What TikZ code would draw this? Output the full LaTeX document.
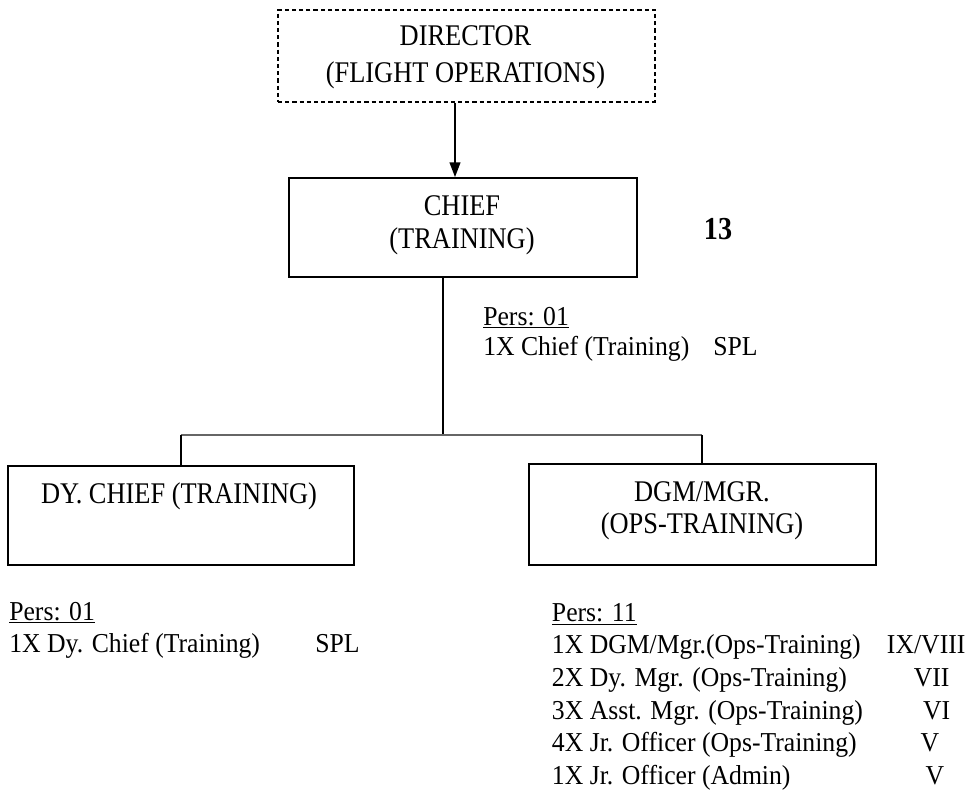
\documentclass[tikz,border=0pt]{standalone}
\usepackage{fontspec}
\setmainfont[FakeStretch=0.88]{Liberation Serif}
\newfontfamily\listfont[FakeStretch=0.94]{Liberation Serif}
\usetikzlibrary{arrows.meta}
\begin{document}
\begin{tikzpicture}[x=0.75pt,y=-0.75pt,
  box/.style={draw,line width=1.3pt,inner sep=0pt},
  dbox/.style={box,line width=1.2pt,dash pattern=on 3.2pt off 2.2pt},
  btxt/.style={inner sep=0pt,anchor=base,font=\fontsize{22.5}{26}\selectfont},
  ltxt/.style={inner sep=0pt,anchor=base west,font=\listfont\fontsize{20.5}{24}\selectfont},
  ctxt/.style={inner sep=0pt,anchor=base,font=\listfont\fontsize{20.5}{24}\selectfont},
  conn/.style={line width=1.3pt},
  hconn/.style={line width=2.2pt,draw=black!60}]
\useasboundingbox (0,0) rectangle (969,795);
% boxes
\node[dbox,minimum width=377*0.75pt,minimum height=92*0.75pt] (dir) at (466.5,56) {};
\node[box,minimum width=348*0.75pt,minimum height=99*0.75pt] (chief) at (463,227.5) {};
\node[box,minimum width=346*0.75pt,minimum height=99*0.75pt] (dy) at (181,515.5) {};
\node[box,minimum width=347*0.75pt,minimum height=101*0.75pt] (dgm) at (702.5,514.5) {};
% box texts
\node[btxt] (dirT1) at (465.5,46) {DIRECTOR};
\node[btxt] (dirT2) at (465.5,83) {(FLIGHT OPERATIONS)};
\node[btxt] (chT1) at (462,215) {CHIEF};
\node[btxt] (chT2) at (462,248) {(TRAINING)};
\node[btxt] (dyT) at (179,503) {DY. CHIEF (TRAINING)};
\node[btxt] (dgmT1) at (702,501) {DGM/MGR.};
\node[btxt] (dgmT2) at (702,533) {(OPS-TRAINING)};
\node[btxt,font=\fontsize{24}{28}\selectfont\bfseries] (num) at (718,239) {13};
% connectors
\draw[conn,-{Triangle[length=11pt,width=8pt]}] (dir.south -| 455,0) -- (chief.north -| 455,0);
\coordinate (trunk) at (443,435);
\coordinate (hl) at (180.7,435);
\coordinate (hr) at (702,435);
\draw[conn] (chief.south -| trunk) -- (trunk);
\draw[hconn] (hl) -- (hr);
\draw[conn] (dy.north -| hl) -- (hl);
\draw[conn] (dgm.north -| hr) -- (hr);
% personnel texts
\node[ltxt] (p1) at (483,325) {\underline{Pers: 01}};
\node[ltxt] (p1a) at (483,355) {1X Chief (Training)};
\node[ltxt] (p1b) at (713,355) {SPL};
\node[ltxt] (p2) at (9,620) {\underline{Pers: 01}};
\node[ltxt] (p2a) at (9,652) {1X Dy. Chief (Training)};
\node[ltxt] (p2b) at (315,652) {SPL};
\node[ltxt] (p3) at (551.7,621.7) {\underline{Pers: 11}};
\node[ltxt] (p3a) at (551.7,653.3) {1X DGM/Mgr.(Ops-Training)};
\node[ltxt] (p3b) at (551.7,686.7) {2X Dy. Mgr. (Ops-Training)};
\node[ltxt] (p3c) at (551.7,719) {3X Asst. Mgr. (Ops-Training)};
\node[ltxt] (p3d) at (551.7,751.7) {4X Jr. Officer (Ops-Training)};
\node[ltxt] (p3e) at (551.7,784) {1X Jr. Officer (Admin)};
\node[ltxt] (g1) at (886.7,653.3) {IX/VIII};
\node[ctxt] (g2) at (931.7,686.7) {VII};
\node[ctxt] (g3) at (936.7,719) {VI};
\node[ctxt] (g4) at (930,751.7) {V};
\node[ctxt] (g5) at (935,784) {V};
\end{tikzpicture}
\end{document}
